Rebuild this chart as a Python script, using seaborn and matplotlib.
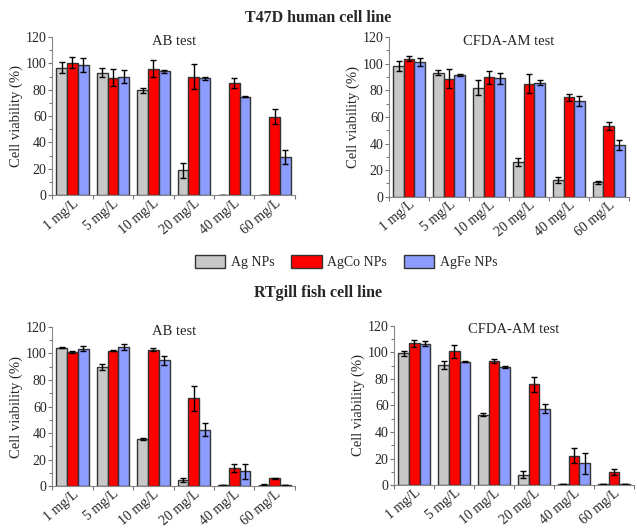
import numpy as np
import pandas as pd
import matplotlib
matplotlib.use("Agg")
import matplotlib.pyplot as plt
from matplotlib.patches import Patch
from matplotlib.ticker import MultipleLocator
import seaborn as sns

# concentrations and nanoparticle types
doses = ["1 mg/L", "5 mg/L", "10 mg/L", "20 mg/L", "40 mg/L", "60 mg/L"]
particles = ["Ag NPs", "AgCo NPs", "AgFe NPs"]

# T47D, AB test
t47d_ab_ag = [96.7, 93.0, 79.5, 19.0, 0.4, 0.3]
t47d_ab_agco = [100.5, 89.0, 96.0, 90.0, 85.0, 59.6]
t47d_ab_agfe = [98.5, 90.0, 94.0, 88.6, 74.7, 29.0]
t47d_ab_ag_err = [4.0, 3.4, 2.0, 5.7, 0.0, 0.0]
t47d_ab_agco_err = [4.0, 6.5, 6.5, 9.3, 3.8, 5.7]
t47d_ab_agfe_err = [5.3, 5.0, 1.2, 1.0, 0.5, 5.5]

# T47D, CFDA-AM test
t47d_cf_ag = [98.3, 93.3, 82.0, 25.8, 12.5, 11.0]
t47d_cf_agco = [103.8, 88.8, 89.8, 85.0, 74.8, 53.3]
t47d_cf_agfe = [101.5, 91.5, 89.0, 85.8, 72.0, 39.0]
t47d_cf_ag_err = [4.0, 1.7, 5.5, 3.0, 2.0, 1.2]
t47d_cf_agco_err = [1.7, 7.0, 5.0, 7.0, 2.7, 3.0]
t47d_cf_agfe_err = [3.0, 1.0, 4.0, 2.0, 3.5, 4.0]

# RTgill, AB test
rt_ab_ag = [104.4, 89.8, 35.7, 4.5, 0.5, 1.0]
rt_ab_agco = [101.0, 102.0, 102.9, 66.2, 13.6, 5.8]
rt_ab_agfe = [103.6, 104.9, 94.8, 42.5, 11.3, 0.5]
rt_ab_ag_err = [0.5, 2.5, 0.7, 1.7, 0.0, 0.3]
rt_ab_agco_err = [0.5, 0.3, 1.2, 9.3, 3.3, 0.7]
rt_ab_agfe_err = [2.0, 2.0, 3.5, 5.0, 5.7, 0.0]

# RTgill, CFDA-AM test
rt_cf_ag = [99.2, 90.4, 53.2, 7.8, 1.0, 0.5]
rt_cf_agco = [107.0, 100.7, 93.4, 76.1, 22.1, 9.8]
rt_cf_agfe = [106.7, 93.1, 88.9, 57.5, 16.3, 1.0]
rt_cf_ag_err = [1.8, 3.0, 1.3, 2.8, 0.0, 0.0]
rt_cf_agco_err = [2.7, 4.8, 1.5, 5.6, 5.5, 2.3]
rt_cf_agfe_err = [1.7, 0.2, 1.0, 3.5, 8.0, 0.2]

colors = ["#c8c8c8", "#ff0000", "#8c9cff"]

sns.set_theme(style="ticks")
plt.rcParams["font.family"] = ["Liberation Serif", "DejaVu Serif"]


def make_df(ag, agco, agfe, ag_err, agco_err, agfe_err):
    rows = []
    for vals, errs, name in [(ag, ag_err, particles[0]), (agco, agco_err, particles[1]),
                             (agfe, agfe_err, particles[2])]:
        for d, v, e in zip(doses, vals, errs):
            rows.append({"dose": d, "np": name, "viability": v, "err": e})
    return pd.DataFrame(rows)


def draw_panel(ax, df, title):
    sns.barplot(data=df, x="dose", y="viability", hue="np", order=doses,
                hue_order=particles, palette=colors, saturation=1, width=0.8, gap=0,
                edgecolor="#333333", linewidth=1.0, errorbar=None,
                legend=False, ax=ax)
    # error bars at bar centers
    for bars, name in zip(ax.containers, particles):
        sub = df[df["np"] == name].set_index("dose").loc[doses]
        xs = [b.get_x() + b.get_width() / 2 for b in bars]
        ax.errorbar(xs, sub["viability"], yerr=sub["err"], fmt="none",
                    ecolor="black", elinewidth=1.0, capsize=2.5, capthick=1.0)
    ax.set_xlim(-0.5, 5.5)
    ax.set_ylim(0, 120)
    ax.yaxis.set_major_locator(MultipleLocator(20))
    ax.yaxis.set_minor_locator(MultipleLocator(10))
    ax.set_xticks(np.arange(-0.5, 6, 1.0), minor=True)
    ax.tick_params(axis="x", which="major", length=0, pad=1)
    ax.tick_params(axis="x", which="minor", length=3, width=0.8, color="#777777")
    ax.tick_params(axis="y", which="major", length=3, width=0.8, color="#777777",
                   labelsize=10, pad=1)
    ax.tick_params(axis="y", which="minor", length=2, width=0.8, color="#777777")
    plt.setp(ax.get_xticklabels(), rotation=40, ha="right", rotation_mode="anchor",
             fontsize=10)
    ax.set_xlabel("")
    ax.set_ylabel("Cell viability (%)", fontsize=10.5, labelpad=2)
    ax.set_title(title, fontsize=10.5, y=0.9)
    for s in ["top", "right"]:
        ax.spines[s].set_visible(False)
    for s in ["left", "bottom"]:
        ax.spines[s].set_color("#888888")
        ax.spines[s].set_linewidth(0.8)


fig = plt.figure(figsize=(6.37, 5.29), dpi=100)
ax1 = fig.add_axes([0.082, 0.631, 0.381, 0.299])
ax2 = fig.add_axes([0.611, 0.628, 0.376, 0.302])
ax3 = fig.add_axes([0.082, 0.081, 0.381, 0.301])
ax4 = fig.add_axes([0.619, 0.083, 0.376, 0.301])

draw_panel(ax1, make_df(t47d_ab_ag, t47d_ab_agco, t47d_ab_agfe,
                        t47d_ab_ag_err, t47d_ab_agco_err, t47d_ab_agfe_err), "AB test")
draw_panel(ax2, make_df(t47d_cf_ag, t47d_cf_agco, t47d_cf_agfe,
                        t47d_cf_ag_err, t47d_cf_agco_err, t47d_cf_agfe_err), "CFDA-AM test")
draw_panel(ax3, make_df(rt_ab_ag, rt_ab_agco, rt_ab_agfe,
                        rt_ab_ag_err, rt_ab_agco_err, rt_ab_agfe_err), "AB test")
draw_panel(ax4, make_df(rt_cf_ag, rt_cf_agco, rt_cf_agfe,
                        rt_cf_ag_err, rt_cf_agco_err, rt_cf_agfe_err), "CFDA-AM test")

fig.text(0.5, 0.966, "T47D human cell line", ha="center", va="center",
         fontsize=11.5, fontweight="bold")
fig.text(0.5, 0.446, "RTgill fish cell line", ha="center", va="center",
         fontsize=11.5, fontweight="bold")

handles = [Patch(facecolor=c, edgecolor="#333333", linewidth=1.0) for c in colors]
fig.legend(handles, particles, loc="center", bbox_to_anchor=(0.543, 0.505), ncol=3,
           frameon=False, fontsize=10, handlelength=2.2, handleheight=1.1,
           columnspacing=1.2, handletextpad=0.4)

fig.savefig("out.png", dpi=100)
